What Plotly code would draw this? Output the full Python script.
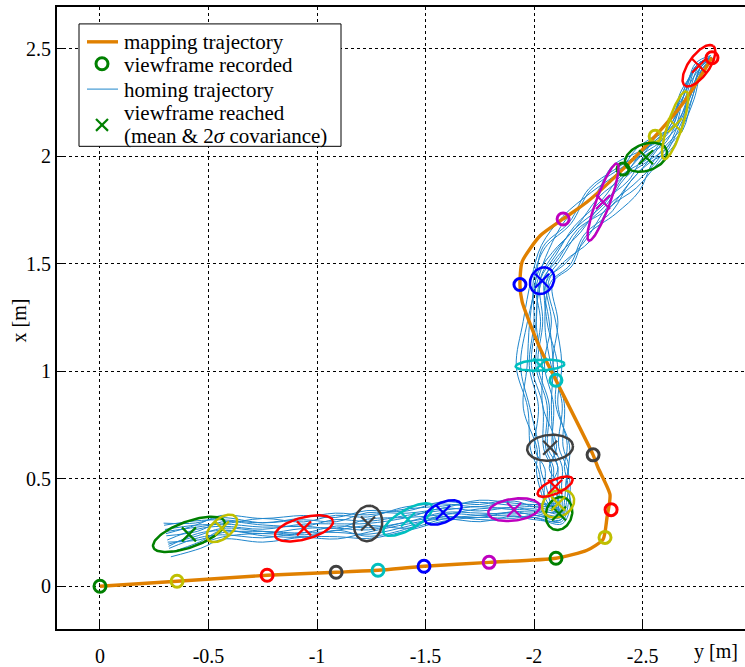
import numpy as np
import plotly.graph_objects as go

# ---------------------------------------------------------------- data (metres)
# mapping (teach) trajectory, lateral y and forward x
map_y = [0.0, -0.355, -0.77, -1.088, -1.281, -1.493, -1.793, -2.101, -2.244, -2.318,
         -2.336, -2.350, -2.295, -2.272, -2.101, -2.028, -1.945, -1.935, -1.945, -2.028,
         -2.134, -2.244, -2.410, -2.558, -2.696, -2.820]
map_x = [0.0, 0.023, 0.051, 0.065, 0.074, 0.093, 0.111, 0.130, 0.167, 0.218,
         0.319, 0.426, 0.551, 0.611, 0.958, 1.106, 1.324, 1.403, 1.509, 1.630,
         1.708, 1.787, 1.940, 2.093, 2.259, 2.458]

# viewframes recorded along the mapping trajectory
rec_y = [0.0, -0.355, -0.770, -1.088, -1.281, -1.493, -1.793, -2.101, -2.327,
         -2.355, -2.272, -2.101, -1.935, -2.134, -2.410, -2.558, -2.820]
rec_x = [0.0, 0.023, 0.051, 0.065, 0.074, 0.093, 0.111, 0.130, 0.227,
         0.356, 0.611, 0.958, 1.403, 1.708, 1.940, 2.093, 2.458]

# viewframes reached while homing: mean and 2-sigma ellipse
# (semi-major, semi-minor in m, orientation in degrees)
reach_y = [-0.410, -0.562, -0.940, -1.235, -1.419, -1.581, -1.908, -2.115, -2.111,
           -2.097, -2.074, -2.028, -2.037, -2.318, -2.516, -2.650, -2.760]
reach_x = [0.241, 0.269, 0.269, 0.292, 0.310, 0.343, 0.356, 0.338, 0.384,
           0.463, 0.644, 1.028, 1.421, 1.787, 1.995, 2.144, 2.421]
ell_a = [0.175, 0.083, 0.138, 0.083, 0.129, 0.092, 0.120, 0.078, 0.078,
         0.088, 0.106, 0.113, 0.065, 0.191, 0.101, 0.166, 0.113]
ell_b = [0.060, 0.046, 0.051, 0.065, 0.046, 0.046, 0.051, 0.060, 0.060,
         0.032, 0.060, 0.025, 0.053, 0.032, 0.062, 0.034, 0.048]
ell_ang = [20, 40, 15, 80, 30, 25, 8, 75, 30, 25, 5, 3, 60, 70, 20, 72, 55]

# colour cycle of the viewframes
cycle = ["#008000", "#bfbf00", "#ff0000", "#404040", "#00bfbf", "#0000ff", "#bf00bf"]

# homing runs: common route plus per-run lateral deviation (cm)
route_y = [-2.82, -2.76, -2.70, -2.65, -2.59, -2.516, -2.42, -2.318, -2.20, -2.10,
           -2.037, -2.03, -2.028, -2.05, -2.074, -2.09, -2.097, -2.11, -2.115, -2.00,
           -1.908, -1.75, -1.581, -1.419, -1.235, -1.09, -0.940, -0.75, -0.562, -0.45,
           -0.31]
route_x = [2.46, 2.42, 2.28, 2.14, 2.06, 1.995, 1.90, 1.787, 1.66, 1.54,
           1.421, 1.23, 1.028, 0.84, 0.644, 0.55, 0.463, 0.384, 0.338, 0.35,
           0.356, 0.35, 0.343, 0.310, 0.292, 0.28, 0.269, 0.265, 0.269, 0.245,
           0.215]
runs_cm = [
    [0, 1, 3, 2, 4, 6, 7, 4, 8, 5, 3, 7, 10, 6, 8, 5, 6, 4, 3, 2, 4, 3, 4, 5, 7, 5, 4, 6, 5, 7, 8],
    [0, -1, -2, -3, -2, -4, -8, -5, -7, -4, -2, -6, -9, -7, -5, -6, -4, -3, -2, -3, -2, -4, -3, -5, -4, -6, -5, -3, -4, -6, -7],
    [1, 2, 1, 3, 5, 3, 3, 6, 4, 8, 4, 2, 5, 8, 4, 6, 7, 5, 4, 3, 5, 4, 2, 3, 5, 3, 2, 4, 3, 2, 4],
    [-1, 0, -3, -1, -4, -2, -5, -8, -4, -6, -4, -3, -5, -3, -7, -4, -5, -6, -4, -2, -4, -2, -4, -6, -3, -5, -3, -5, -2, -4, -5],
    [0, 1, 2, 0, 1, -1, 2, 0, 2, 1, 1, 4, 6, 3, 2, 4, 3, 2, 2, 1, 2, 1, 0, 1, 2, 0, 2, 1, 2, 3, 1],
    [0, -1, 0, -2, -1, 1, -2, -1, -2, 0, -1, -2, -4, -1, -3, -1, -2, -1, 0, -1, 0, -2, -1, -2, -1, -3, -1, -2, -3, -1, -2],
    [1, 2, 4, 3, 2, 4, 9, 8, 5, 9, 5, 8, 6, 9, 6, 7, 5, 3, 3, 4, 3, 5, 3, 2, 4, 6, 4, 2, 4, 5, 6],
    [-1, -2, -1, -4, -5, -6, -4, -7, -9, -8, -5, -8, -11, -8, -9, -7, -6, -4, -3, -4, -5, -3, -5, -4, -6, -4, -6, -5, -6, -4, -3],
    [0, 0, 1, 1, 3, 2, 0, 2, 1, 3, 2, 5, 2, 4, 1, 2, 1, 0, -1, 0, 1, 2, 3, 4, 1, 2, 3, 1, 0, 1, 2],
    [0, 1, -1, 0, -3, -3, -1, -3, -1, -2, -3, 0, -2, 1, -2, 0, -1, 1, 1, 0, -1, 0, -2, -1, 0, -1, -2, 0, -1, -2, 0],
    [0, 2, 3, 4, 3, 5, 5, 3, 6, 6, 2, 3, 8, 5, 9, 7, 5, 6, 5, 3, 3, 2, 1, 4, 6, 2, 4, 3, 1, 4, 6],
    [0, -1, -2, -2, -3, -3, -6, -9, -5, -7, -3, -5, -6, -10, -6, -8, -7, -5, -5, -3, -3, -5, -2, -3, -5, -2, -4, -3, -5, -5, -8],
    [0, 1, 2, 1, 0, 2, 3, 4, 0, 2, 0, -2, 1, -1, 3, -2, 2, 0, 1, 2, 1, 3, 2, 1, 3, 1, 0, 2, 1, 0, 3],
    [0, -1, -1, -1, -1, -2, -1, 1, -1, -1, -1, 1, -1, 2, -1, 2, -2, -2, -1, -2, -1, -1, 1, -1, -2, 1, -1, -1, -2, -3, -4],
]

tick_vals_y = [0, -0.5, -1, -1.5, -2, -2.5]
tick_text_y = ["0", "-0.5", "-1", "-1.5", "-2", "-2.5"]
tick_vals_x = [0, 0.5, 1, 1.5, 2, 2.5]
tick_text_x = ["0", "0.5", "1", "1.5", "2", "2.5"]

legend_labels = ["mapping trajectory", "viewframe recorded", "homing trajectory",
                 "viewframe reached", "(mean &amp; 2<i>σ</i> covariance)"]

ORANGE = "#e08000"
HOMING = "#1f86cc"
FONT = "Liberation Serif"

W, H = 745, 667
ML, MR, MT, MB = 57, 0, 7, 35
PW, PH = W - ML - MR, H - MT - MB

# ---------------------------------------------------------------- geometry helpers
ry = np.array(route_y)
rx = np.array(route_x)
# screen frame: right = -y, up = x
sx, sy = -ry, rx
tx = np.gradient(sx)
ty = np.gradient(sy)
norm = np.hypot(tx, ty)
nx, ny = -ty / norm, tx / norm

hy, hx = [], []
for run in runs_cm:
    off = np.array(run) / 100.0
    hy += list(ry - off * nx) + [None]
    hx += list(rx + off * ny) + [None]


def ellipse(cy, cx, a, b, ang):
    t = np.linspace(0, 2 * np.pi, 121)
    th = np.deg2rad(ang)
    ex = a * np.cos(t) * np.cos(th) - b * np.sin(t) * np.sin(th)
    ey = a * np.cos(t) * np.sin(th) + b * np.sin(t) * np.cos(th)
    return cy - ex, cx + ey


def px(xpix):
    return (xpix - ML) / PW


def py(ypix):
    return (H - MB - ypix) / PH


# ---------------------------------------------------------------- figure
fig = go.Figure()

fig.add_trace(go.Scatter(
    x=hy, y=hx, mode="lines", line=dict(color=HOMING, width=1, shape="spline", smoothing=1.0),
    name="homing trajectory", connectgaps=False, hoverinfo="skip"))

fig.add_trace(go.Scatter(
    x=map_y, y=map_x, mode="lines", line=dict(color=ORANGE, width=3.4, shape="spline", smoothing=0.6),
    name="mapping trajectory", hoverinfo="skip"))

rec_cols = [cycle[i % 7] for i in range(len(rec_y))]
fig.add_trace(go.Scatter(
    x=rec_y, y=rec_x, mode="markers", name="viewframe recorded",
    marker=dict(symbol="circle-open", size=12, color=rec_cols, line=dict(width=3, color=rec_cols))))

for i in range(len(reach_y)):
    ey, ex = ellipse(reach_y[i], reach_x[i], ell_a[i], ell_b[i], ell_ang[i])
    fig.add_trace(go.Scatter(
        x=ey, y=ex, mode="lines", hoverinfo="skip",
        line=dict(color=cycle[i % 7], width=2.5)))

reach_cols = [cycle[i % 7] for i in range(len(reach_y))]
fig.add_trace(go.Scatter(
    x=reach_y, y=reach_x, mode="markers", name="viewframe reached",
    marker=dict(symbol="x-thin-open", size=14, color=reach_cols, line=dict(width=2.2, color=reach_cols))))

axis_common = dict(
    showgrid=True, gridcolor="black", griddash="dot", gridwidth=1,
    zeroline=False, showline=True, linecolor="black", linewidth=2,
    ticks="inside", ticklen=8, tickcolor="black", tickwidth=1,
    tickfont=dict(family=FONT, size=20, color="black"),
)

# legend box drawn in paper space
shapes = [
    dict(type="rect", xref="paper", yref="paper", x0=px(79), x1=px(341), y0=py(147), y1=py(24),
         line=dict(color="black", width=1), fillcolor="white", layer="above"),
    dict(type="line", xref="paper", yref="paper", x0=px(87), x1=px(118), y0=py(42), y1=py(42),
         line=dict(color=ORANGE, width=3.4), layer="above"),
    dict(type="circle", xref="paper", yref="paper", x0=px(96), x1=px(108), y0=py(70), y1=py(58),
         line=dict(color=cycle[0], width=3), layer="above"),
    dict(type="line", xref="paper", yref="paper", x0=px(87), x1=px(118), y0=py(89.5), y1=py(89.5),
         line=dict(color=HOMING, width=1), layer="above"),
    dict(type="line", xref="paper", yref="paper", x0=px(96), x1=px(108), y0=py(119.5), y1=py(131.5),
         line=dict(color=cycle[0], width=2.2), layer="above"),
    dict(type="line", xref="paper", yref="paper", x0=px(96), x1=px(108), y0=py(131.5), y1=py(119.5),
         line=dict(color=cycle[0], width=2.2), layer="above"),
]
label_rows = [42, 65, 90, 114, 137]
annotations = [
    dict(text=t, xref="paper", yref="paper", x=px(122), y=py(r), xanchor="left", yanchor="middle",
         showarrow=False, font=dict(family=FONT, size=21, color="black"))
    for t, r in zip(legend_labels, label_rows)
]
annotations += [
    dict(text="y [m]", xref="paper", yref="paper", x=px(716), y=py(655),
         xanchor="center", yanchor="middle", showarrow=False,
         font=dict(family=FONT, size=20, color="black")),
    dict(text="x [m]", xref="paper", yref="paper", x=px(19), y=py(322), textangle=-90,
         xanchor="center", yanchor="middle", showarrow=False,
         font=dict(family=FONT, size=20, color="black")),
]

fig.update_layout(
    width=W, height=H,
    margin=dict(l=ML, r=MR, t=MT, b=MB),
    paper_bgcolor="white", plot_bgcolor="white",
    font=dict(family=FONT, size=20, color="black"),
    xaxis=dict(range=[0.198, -2.972], tickvals=tick_vals_y, ticktext=tick_text_y,
               mirror=True, ticklabelstandoff=8, **axis_common),
    yaxis=dict(range=[-0.199, 2.694], tickvals=tick_vals_x, ticktext=tick_text_x,
               **axis_common),
    showlegend=False,
    shapes=shapes,
    annotations=annotations,
)

fig.write_html("out.html")
